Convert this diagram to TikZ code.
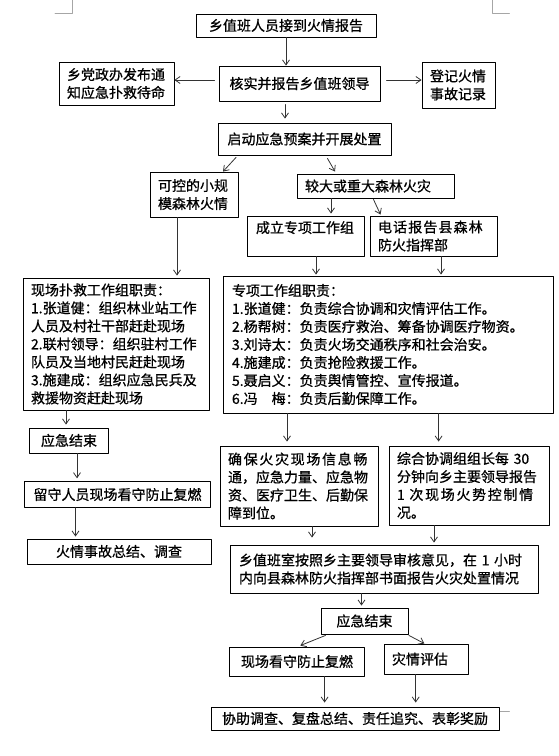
\documentclass[tikz,border=0pt]{standalone}
\usepackage{fontspec}
\newfontfamily\cjk[FakeBold=0.8]{Noto Sans CJK SC}
\usetikzlibrary{arrows.meta}
\newcommand{\wide}[2]{{\addfontfeatures{LetterSpace=#1}#2}}
\tikzset{
  box/.style={draw, line width=0.9pt, inner sep=0pt, font=\cjk\fontsize{14}{18}\selectfont},
  lbox/.style={box, align=left},
  arr/.style={draw=black!80, line width=0.8pt, -{Straight Barb[length=5pt,width=7pt]}},
  cropmk/.style={draw=black!35, line width=0.6pt},
  every picture/.style={line cap=round, line join=round}
}
\begin{document}
\begin{tikzpicture}[x=1pt, y=-1pt]
  \useasboundingbox (0,0) rectangle (558,756);
  % crop marks
  \draw[cropmk] (72,0) -- (72,13.3) -- (55,13.3);
  \draw[cropmk] (492,0) -- (492,13.3) -- (509.5,13.3);
  \draw[cropmk] (500,711.7) -- (509.5,711.7);

  % report and verification
  \node[box, minimum width=180pt, minimum height=23pt] (top) at (286,25.5) {乡值班人员接到火情报告};
  \node[lbox, minimum width=115pt, minimum height=43pt, text width=99pt] (notify) at (116.5,83.5) {乡党政办发布通\\知应急扑救待命};
  \node[box, minimum width=161pt, minimum height=35pt] (verify) at (299.5,83.5) {核实并报告乡值班领导};
  \node[lbox, minimum width=73pt, minimum height=46pt, text width=57pt] (record) at (458.5,85) {登记火情\\事故记录};
  \node[box, minimum width=173pt, minimum height=32pt] (start) at (304.5,139) {启动应急预案并开展处置};

  % small or big fire
  \node[lbox, minimum width=88pt, minimum height=45pt, text width=72pt] (small) at (194,194.5) {可控的小规\\模森林火情};
  \node[lbox, minimum width=157pt, minimum height=24pt, text width=141pt] (big) at (375.5,186) {较大或重大森林火灾};
  \node[lbox, minimum width=117pt, minimum height=40pt, text width=99pt] (team) at (305.5,236) {成立专项工作组\\~};
  \node[lbox, minimum width=127pt, minimum height=40pt, text width=111pt] (phone) at (433.5,236) {\wide{8}{电话报告县森林}\\防火指挥部};

  % duties
  \node[lbox, minimum width=186pt, minimum height=132pt, text width=170pt] (rescue) at (116,344) {现场扑救工作组职责：\\1.张道健：组织林业站工作\\人员及村社干部赶赴现场\\2.联村领导：组织驻村工作\\队员及当地村民赶赴现场\\3.施建成：组织应急民兵及\\救援物资赶赴现场};
  \node[lbox, minimum width=330pt, minimum height=137pt, text width=312pt] (special) at (388,344.5) {专项工作组职责：\\1.张道健：负责综合协调和灾情评估工作。\\2.杨帮树：负责医疗救治、筹备协调医疗物资。\\3.刘诗太：负责火场交通秩序和社会治安。\\4.施建成：负责抢险救援工作。\\5.聂启义：负责舆情管控、宣传报道。\\6.冯\hspace{1em}梅：负责后勤保障工作。};

  % left branch
  \node[box, minimum width=79pt, minimum height=25pt] (endA) at (69,440.5) {应急结束};
  \node[box, minimum width=186.5pt, minimum height=25.5pt] (stay) at (117.5,494.5) {留守人员现场看守防止复燃};
  \node[box, minimum width=184pt, minimum height=25pt] (sum) at (119,551.5) {火情事故总结、调查};

  % right branch
  \node[lbox, minimum width=158pt, minimum height=80pt, text width=142pt] (ensure) at (299,486) {\wide{12}{确保火灾现场信息畅}\\通，应急力量、应急物\\资、医疗卫生、后勤保\\障到位。};
  \node[lbox, minimum width=160pt, minimum height=79pt, text width=144pt] (coord) at (469,485.5) {综合协调组组长每 30\\分钟向乡主要领导报告\\\wide{12}{1 次现场火势控制情}\\况。};
  \node[lbox, minimum width=307.5pt, minimum height=48pt, text width=291pt] (office) at (384.5,569) {乡值班室按照乡主要领导审核意见，在 1 小时\\内向县森林防火指挥部书面报告火灾处置情况};
  \node[box, minimum width=87pt, minimum height=26pt] (endB) at (364.5,621) {应急结束};
  \node[box, minimum width=135.5pt, minimum height=29pt] (guard) at (297,661.5) {现场看守防止复燃};
  \node[lbox, minimum width=84pt, minimum height=30pt, text width=68pt] (assess) at (426,659) {灾情评估};
  \node[box, minimum width=288pt, minimum height=23pt] (assist) at (355,718.5) {协助调查、复盘总结、责任追究、表彰奖励};

  % arrows
  \draw[arr] (top.south) -- (top.south |- verify.north);
  \draw[arr] ([xshift=-4pt,yshift=3.5pt]verify.west) -- ([yshift=3.5pt]notify.east);
  \draw[arr] ([xshift=6pt,yshift=3.5pt]verify.east) -- ([yshift=5pt]record.west);
  \draw[arr] ([xshift=-14.5pt,yshift=-3pt]verify.south) -- ([xshift=-19.5pt,yshift=4pt]start.north);
  \draw[arr] ([xshift=-68.5pt,yshift=-2pt]start.south) -- ([xshift=29pt]small.north);
  \draw[arr] ([xshift=23pt,yshift=-3pt]start.south) -- ([xshift=-40.5pt,yshift=2pt]big.north);
  \draw[arr] ([xshift=-17pt]small.south) -- ([xshift=61pt,yshift=2pt]rescue.north);
  \draw[arr] ([xshift=-44.5pt]big.south) -- ([xshift=25.5pt,yshift=2pt]team.north);
  \draw[arr] ([xshift=-2pt,yshift=-1pt]big.south) -- ([xshift=-53pt,yshift=1pt]phone.north);
  \draw[arr] ([xshift=10.5pt]team.south) -- ([xshift=-72pt,yshift=1pt]special.north);
  \draw[arr] ([xshift=7.5pt]phone.south) -- ([xshift=53pt,yshift=1pt]special.north);
  \draw[arr] ([xshift=-50pt]rescue.south) -- ([xshift=-3pt,yshift=3pt]endA.north);
  \draw[arr] ([xshift=8pt]endA.south) -- ([xshift=-40.5pt,yshift=3pt]stay.north);
  \draw[arr] ([xshift=-42pt]stay.south) -- ([xshift=-43.5pt,yshift=2pt]sum.north);
  \draw[arr] ([xshift=-101pt]special.south) -- ([xshift=-12pt,yshift=4pt]ensure.north);
  \draw[arr] ([xshift=50.6pt]special.south) -- ([xshift=-30.4pt,yshift=4pt]coord.north);
  \draw[arr] ([xshift=13pt]ensure.south) -- ([xshift=-72.5pt,yshift=7pt]office.north);
  \draw[arr] ([xshift=-35pt]coord.south) -- ([xshift=49.5pt,yshift=2pt]office.north);
  \draw[arr] ([xshift=-23pt]office.south) -- ([xshift=-3pt,yshift=2pt]endB.north);
  \draw[arr] ([xshift=-39pt,yshift=-1pt]endB.south) -- ([xshift=3.3pt,yshift=1pt]guard.north);
  \draw[arr] ([xshift=44.5pt,yshift=-1pt]endB.south) -- ([xshift=-1.6pt]assess.north);
  \draw[arr] ([xshift=27.6pt]guard.south) -- ([xshift=-30.4pt,yshift=4pt]assist.north);
  \draw[arr] ([xshift=-10.3pt]assess.south) -- ([xshift=60.7pt,yshift=4pt]assist.north);
\end{tikzpicture}
\end{document}
